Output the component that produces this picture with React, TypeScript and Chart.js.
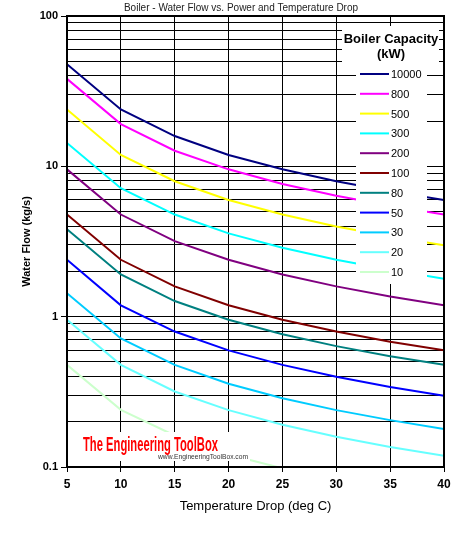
import React, { useEffect, useRef } from "react";
import { Chart, registerables } from "chart.js";

Chart.register(...registerables);

const chartTitle = "Boiler - Water Flow vs. Power and Temperature Drop";
const xTitle = "Temperature Drop (deg C)";
const yTitle = "Water Flow (kg/s)";
const legendTitle = ["Boiler Capacity", "(kW)"];

const temperatureDrop = [5, 10, 15, 20, 25, 30, 35, 40];

const capacityLabels = ["10000", "800", "500", "300", "200", "100", "80", "50", "30", "20", "10"];
const capacityColors = [
  "#000080", "#FF00FF", "#FFFF00", "#00FFFF", "#800080", "#800000",
  "#008080", "#0000FF", "#00CCFF", "#66FFFF", "#CCFFCC",
];

const flow10000 = [47.8, 23.9, 15.9, 11.9, 9.55, 7.96, 6.82, 5.97];
const flow800 = [38.2, 19.1, 12.7, 9.55, 7.64, 6.37, 5.46, 4.78];
const flow500 = [23.9, 11.9, 7.96, 5.97, 4.78, 3.98, 3.41, 2.98];
const flow300 = [14.3, 7.16, 4.78, 3.58, 2.87, 2.39, 2.05, 1.79];
const flow200 = [9.55, 4.78, 3.18, 2.39, 1.91, 1.59, 1.36, 1.19];
const flow100 = [4.78, 2.39, 1.59, 1.19, 0.955, 0.796, 0.682, 0.597];
const flow80 = [3.82, 1.91, 1.27, 0.955, 0.764, 0.637, 0.546, 0.478];
const flow50 = [2.39, 1.19, 0.796, 0.597, 0.478, 0.398, 0.341, 0.298];
const flow30 = [1.43, 0.716, 0.478, 0.358, 0.287, 0.239, 0.205, 0.179];
const flow20 = [0.955, 0.478, 0.318, 0.239, 0.191, 0.159, 0.136, 0.119];
const flow10 = [0.478, 0.24, 0.162, 0.121, 0.098, 0.08, 0.068, 0.06];

const flowSeries = [flow10000, flow800, flow500, flow300, flow200, flow100, flow80, flow50, flow30, flow20, flow10];

const xTicks = [5, 10, 15, 20, 25, 30, 35, 40];
const yGridValues = [
  0.1, 0.2, 0.3, 0.4, 0.5, 0.6, 0.7, 0.8, 0.9,
  1, 2, 3, 4, 5, 6, 7, 8, 9,
  10, 20, 30, 40, 50, 60, 70, 80, 90, 100,
];
const yLabelValues = [0.1, 1, 10, 100];
const yLabelTexts = ["0.1", "1", "10", "100"];

const watermarkMain = "The Engineering ToolBox";
const watermarkUrl = "www.EngineeringToolBox.com";

const FONT = "'Liberation Sans', Arial, sans-serif";

const decorPlugin = {
  id: "decor",
  afterDatasetsDraw(chart: any) {
    const { ctx, chartArea: a } = chart;
    ctx.save();

    // watermark
    ctx.fillStyle = "#ffffff";
    ctx.fillRect(a.left + 1, 432, 182, 29);
    ctx.font = `bold 20px ${FONT}`;
    const mw = ctx.measureText(watermarkMain).width;
    ctx.save();
    ctx.translate(83, 445);
    ctx.scale(135 / mw, 1);
    ctx.fillStyle = "#FF0000";
    ctx.textBaseline = "middle";
    ctx.textAlign = "left";
    ctx.fillText(watermarkMain, 0, 0);
    ctx.restore();
    ctx.font = `7px ${FONT}`;
    ctx.fillStyle = "#333";
    ctx.textBaseline = "middle";
    ctx.textAlign = "left";
    const uw = ctx.measureText(watermarkUrl).width;
    ctx.save();
    ctx.translate(158, 457);
    ctx.scale(90 / uw, 1);
    ctx.fillText(watermarkUrl, 0, 0);
    ctx.restore();

    // legend boxes
    ctx.fillStyle = "#ffffff";
    ctx.fillRect(342, 26, 97, 38);
    ctx.fillRect(356, 64, 71, 220);
    ctx.fillStyle = "#000";
    ctx.textAlign = "center";
    ctx.textBaseline = "middle";
    ctx.font = `bold 13px ${FONT}`;
    ctx.fillText(legendTitle[0], 391, 39);
    ctx.fillText(legendTitle[1], 391, 54);
    ctx.font = `11px ${FONT}`;
    ctx.textAlign = "left";
    chart.data.datasets.forEach((ds: any, i: number) => {
      const y = 74 + i * 19.8;
      ctx.strokeStyle = ds.borderColor;
      ctx.lineWidth = 2;
      ctx.beginPath();
      ctx.moveTo(360, y);
      ctx.lineTo(389, y);
      ctx.stroke();
      ctx.fillStyle = "#000";
      ctx.fillText(ds.label, 391, y + 1);
    });

    // plot border
    ctx.strokeStyle = "#000";
    ctx.lineWidth = 2;
    ctx.strokeRect(a.left, a.top, a.right - a.left, a.bottom - a.top);

    // titles
    ctx.fillStyle = "#222";
    ctx.textAlign = "center";
    ctx.textBaseline = "middle";
    ctx.font = `10px ${FONT}`;
    ctx.fillText(chartTitle, 241, 8);
    ctx.fillStyle = "#000";
    ctx.font = `13px ${FONT}`;
    ctx.fillText(xTitle, (a.left + a.right) / 2, 506);
    ctx.save();
    ctx.translate(27, (a.top + a.bottom) / 2);
    ctx.rotate(-Math.PI / 2);
    ctx.font = `bold 11px ${FONT}`;
    ctx.fillText(yTitle, 0, 0);
    ctx.restore();

    ctx.restore();
  },
};

export default function App() {
  const ref = useRef<HTMLCanvasElement | null>(null);
  useEffect(() => {
    if (!ref.current) return;
    const chart = new Chart(ref.current, {
      type: "line",
      data: {
        datasets: flowSeries.map((vals, i) => ({
          label: capacityLabels[i],
          data: temperatureDrop.map((t, j) => ({ x: t, y: vals[j] })),
          borderColor: capacityColors[i],
          backgroundColor: capacityColors[i],
          borderWidth: 2,
          pointRadius: 0,
          tension: 0,
          fill: false,
        })),
      },
      options: {
        animation: false,
        responsive: false,
        devicePixelRatio: 1,
        layout: { padding: { left: 0, right: 14, top: 16, bottom: 0 } },
        plugins: { legend: { display: false }, title: { display: false }, tooltip: { enabled: false } },
        scales: {
          x: {
            type: "linear",
            min: 5,
            max: 40,
            afterBuildTicks: (scale: any) => {
              scale.ticks = xTicks.map((v) => ({ value: v }));
            },
            afterFit: (scale: any) => {
              scale.height = 66;
            },
            grid: { color: "#000", lineWidth: 1, tickLength: 5, tickColor: "#000" },
            border: { display: false },
            ticks: {
              autoSkip: false,
              padding: 5,
              color: "#000",
              font: { family: FONT, size: 12, weight: "bold" },
            },
          },
          y: {
            type: "logarithmic",
            min: 0.1,
            max: 100,
            afterBuildTicks: (scale: any) => {
              scale.ticks = yGridValues.map((v) => ({ value: v }));
            },
            afterFit: (scale: any) => {
              scale.width = 67;
            },
            grid: {
              color: "#000",
              lineWidth: 1,
              tickLength: 6,
              tickColor: (c: any) =>
                c.tick && yLabelValues.indexOf(c.tick.value) >= 0 ? "#000" : "rgba(0,0,0,0)",
            },
            border: { display: false },
            ticks: {
              autoSkip: false,
              padding: 3,
              color: "#000",
              font: { family: FONT, size: 11, weight: "bold" },
              callback: (value: any) => {
                const k = yLabelValues.indexOf(Number(value));
                return k >= 0 ? yLabelTexts[k] : "";
              },
            },
          },
        },
      },
      plugins: [decorPlugin],
    });
    return () => chart.destroy();
  }, []);
  return (
    <div style={{ position: "fixed", left: 0, top: 0, width: 458, height: 533, background: "#fff" }}>
      <canvas ref={ref} width={458} height={533} style={{ display: "block" }} />
    </div>
  );
}
